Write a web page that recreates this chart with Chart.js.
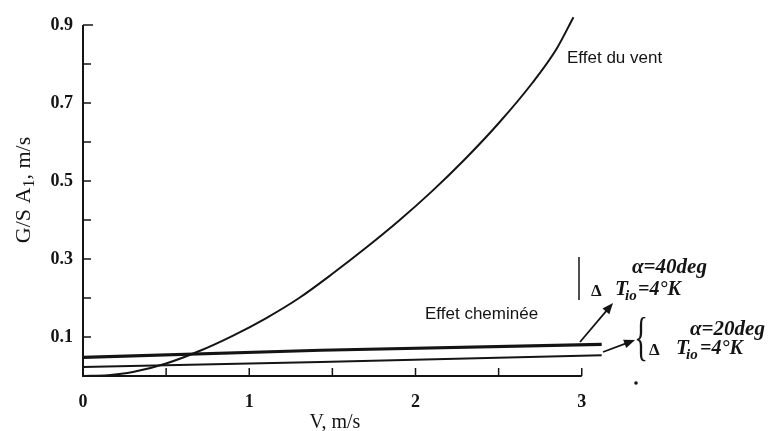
<!DOCTYPE html>
<html>
<head>
<meta charset="utf-8">
<script src="https://cdn.jsdelivr.net/npm/chart.js@4.4.1/dist/chart.umd.min.js"></script>
<style>
	html, body { margin: 0; padding: 0; background: #fff; }
	#wrap { width: 771px; height: 431px; }
</style>
</head>
<body>
<div id="wrap"><canvas id="chart" width="771" height="431"></canvas></div>
<script>
// Courbe effet du vent (V en m/s, G/S A1 en m/s)
const ventV = [0, 0.15, 0.3, 0.5, 0.7, 0.9, 1.1, 1.3, 1.5, 1.7, 1.9, 2.1, 2.3, 2.5, 2.7, 2.85, 2.95];
const ventG = [0, 0.002, 0.01, 0.032, 0.064, 0.103, 0.148, 0.2, 0.262, 0.328, 0.398, 0.474, 0.557, 0.648, 0.75, 0.84, 0.92];

// Effet cheminee, alpha = 40deg et alpha = 20deg
const chemV = [0, 1.43, 3.12];
const chem40 = [0.048, 0.066, 0.081];
const chem20 = [0.023, 0.036, 0.053];

// Graduations
const xTickLabels = [0, 1, 2, 3];
const yTickLabels = [0.1, 0.3, 0.5, 0.7, 0.9];

const ink = '#141414';
const serif = '"Liberation Serif", serif';

function toPoints(xs, ys) {
	return xs.map((x, i) => ({ x: x, y: ys[i] }));
}

function arrow(ctx, x1, y1, x2, y2) {
	const a = Math.atan2(y2 - y1, x2 - x1);
	ctx.beginPath();
	ctx.moveTo(x1, y1);
	ctx.lineTo(x2 - 6 * Math.cos(a), y2 - 6 * Math.sin(a));
	ctx.stroke();
	ctx.beginPath();
	ctx.moveTo(x2, y2);
	ctx.lineTo(x2 - 11 * Math.cos(a) + 4.5 * Math.sin(a), y2 - 11 * Math.sin(a) - 4.5 * Math.cos(a));
	ctx.lineTo(x2 - 11 * Math.cos(a) - 4.5 * Math.sin(a), y2 - 11 * Math.sin(a) + 4.5 * Math.cos(a));
	ctx.closePath();
	ctx.fill();
}

// "Δ  T_io=4°K"
function deltaT(ctx, xD, xT, xEq, y) {
	ctx.font = 'bold 17px ' + serif;
	ctx.fillText('\u0394', xD, y + 2);
	ctx.font = 'italic bold 21px ' + serif;
	ctx.fillText('T', xT, y);
	ctx.font = 'italic bold 15px ' + serif;
	ctx.fillText('io', xT + 10, y + 6);
	ctx.font = 'italic bold 20px ' + serif;
	ctx.fillText('=4\u00b0K', xEq, y);
}

// Axes, graduations interieures et annotations
const decorPlugin = {
	id: 'decor',
	afterDatasetsDraw(chart) {
		const ctx = chart.ctx;
		const xs = chart.scales.x, ys = chart.scales.y;
		const x0 = xs.getPixelForValue(0), y0 = ys.getPixelForValue(0);
		ctx.save();
		ctx.strokeStyle = ink;
		ctx.fillStyle = ink;
		ctx.lineWidth = 2;
		// axes
		ctx.beginPath();
		ctx.moveTo(x0, ys.getPixelForValue(0.9));
		ctx.lineTo(x0, y0);
		ctx.lineTo(xs.getPixelForValue(3), y0);
		ctx.stroke();
		ctx.lineWidth = 1.5;
		for (let i = 1; i <= 9; i++) {
			const py = ys.getPixelForValue(i / 10);
			ctx.beginPath();
			ctx.moveTo(x0, py);
			ctx.lineTo(x0 + (i === 9 ? 10 : 8), py);
			ctx.stroke();
		}
		for (let i = 1; i <= 6; i++) {
			const px = xs.getPixelForValue(i / 2);
			ctx.beginPath();
			ctx.moveTo(px, y0);
			ctx.lineTo(px, y0 - 8);
			ctx.stroke();
		}

		// titres des axes
		ctx.textBaseline = 'middle';
		ctx.textAlign = 'center';
		ctx.font = '20px ' + serif;
		ctx.fillText('V, m/s', 335, 423);

		ctx.save();
		ctx.translate(24, 190);
		ctx.rotate(-Math.PI / 2);
		ctx.textAlign = 'left';
		const p1 = 'G/S A', p2 = '1', p3 = ', m/s';
		ctx.font = '22px ' + serif;
		const w1 = ctx.measureText(p1).width, w3 = ctx.measureText(p3).width;
		ctx.font = '16px ' + serif;
		const w2 = ctx.measureText(p2).width;
		let cx = -(w1 + w2 + w3) / 2;
		ctx.font = '22px ' + serif;
		ctx.fillText(p1, cx, 0);
		cx += w1;
		ctx.font = '16px ' + serif;
		ctx.fillText(p2, cx, 6);
		cx += w2;
		ctx.font = '22px ' + serif;
		ctx.fillText(p3, cx, 0);
		ctx.restore();

		// annotations
		ctx.textAlign = 'left';
		ctx.font = '17px "Liberation Sans"';
		ctx.fillText('Effet du vent', 567, 58);
		ctx.fillText('Effet chemin\u00e9e', 425, 314);

		ctx.lineWidth = 1.5;
		ctx.beginPath();
		ctx.moveTo(579, 257);
		ctx.lineTo(579, 300);
		ctx.stroke();

		ctx.font = 'italic bold 21px ' + serif;
		ctx.fillText('\u03b1=40deg', 632, 268);
		ctx.fillText('\u03b1=20deg', 690, 330);
		deltaT(ctx, 591, 615, 638, 290);
		deltaT(ctx, 649, 676, 700, 349);

		ctx.font = '52px ' + serif;
		ctx.save();
		ctx.translate(641, 340);
		ctx.scale(0.55, 1);
		ctx.textAlign = 'center';
		ctx.fillText('{', 0, 0);
		ctx.restore();

		ctx.lineWidth = 1.8;
		arrow(ctx, 580, 342, 613, 303);
		arrow(ctx, 603, 352, 635, 340);

		ctx.beginPath();
		ctx.arc(636, 383, 1.8, 0, Math.PI * 2);
		ctx.fill();
		ctx.restore();
	}
};

const tickFont = { family: serif, size: 18, weight: 'bold' };

new Chart(document.getElementById('chart').getContext('2d'), {
	type: 'line',
	data: {
		datasets: [
			{
				label: 'Effet du vent',
				data: toPoints(ventV, ventG),
				borderColor: ink,
				borderWidth: 2,
				pointRadius: 0,
				cubicInterpolationMode: 'monotone',
				clip: false
			},
			{
				label: 'alpha=40deg',
				data: toPoints(chemV, chem40),
				borderColor: ink,
				borderWidth: 3.2,
				pointRadius: 0
			},
			{
				label: 'alpha=20deg',
				data: toPoints(chemV, chem20),
				borderColor: ink,
				borderWidth: 2,
				pointRadius: 0
			}
		]
	},
	options: {
		responsive: false,
		animation: false,
		layout: { padding: { left: 0, right: 156, top: 25, bottom: 0 } },
		plugins: {
			legend: { display: false },
			tooltip: { enabled: false }
		},
		scales: {
			x: {
				type: 'linear',
				min: 0,
				max: 3.2,
				grid: { display: false, drawTicks: false },
				border: { display: false },
				ticks: {
					color: ink,
					font: tickFont,
					padding: 16,
					maxRotation: 0,
					callback: v => String(v)
				},
				afterBuildTicks: s => { s.ticks = xTickLabels.map(v => ({ value: v })); },
				afterFit: s => { s.height = 55; }
			},
			y: {
				type: 'linear',
				min: 0,
				max: 0.9,
				grid: { display: false, drawTicks: false },
				border: { display: false },
				ticks: {
					color: ink,
					font: tickFont,
					padding: 10,
					callback: v => v.toFixed(1)
				},
				afterBuildTicks: s => { s.ticks = yTickLabels.map(v => ({ value: v })); },
				afterFit: s => { s.width = 83; }
			}
		}
	},
	plugins: [decorPlugin]
});
</script>
</body>
</html>
